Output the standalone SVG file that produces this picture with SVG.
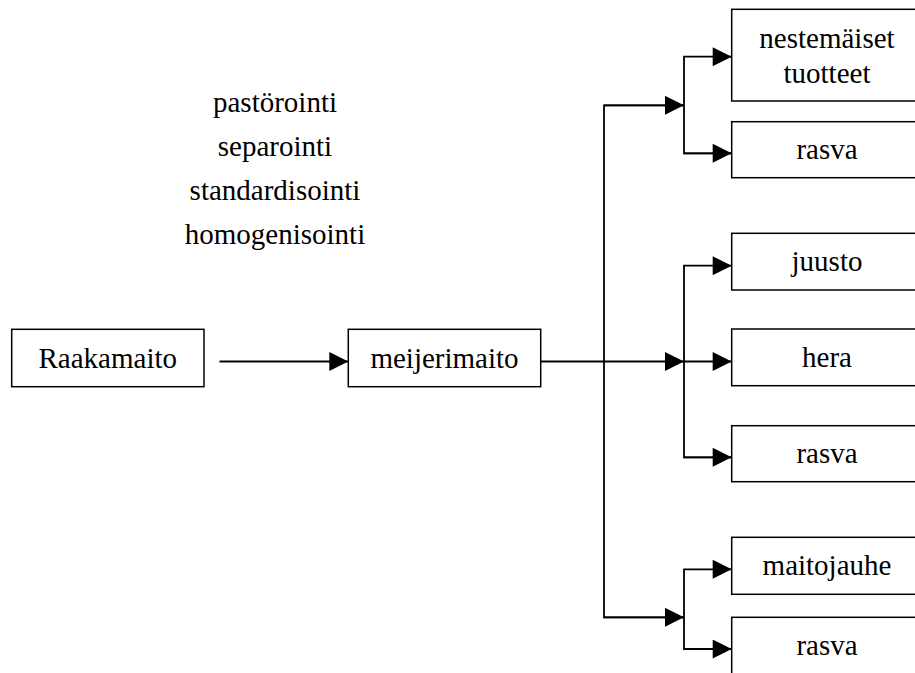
<svg xmlns="http://www.w3.org/2000/svg" width="915" height="673" viewBox="0 0 915 673">
<defs>
<marker id="arr" viewBox="0 0 20 20" refX="20" refY="10" markerWidth="20" markerHeight="19" markerUnits="userSpaceOnUse" orient="auto">
<path d="M0,0 L20,10 L0,20 Z" fill="#000"/>
</marker>
</defs>
<style>
.box{fill:#fff;stroke:#000;stroke-width:1.5}
.lbl{font-family:"Liberation Serif","Times New Roman","DejaVu Serif",serif;font-size:29px;fill:#000;text-anchor:middle}
.ln{fill:none;stroke:#000;stroke-width:1.8}
.ar{fill:none;stroke:#000;stroke-width:1.8;marker-end:url(#arr)}
</style>
<rect width="915" height="673" fill="#fff"/>
<g id="steps">
<text class="lbl" x="275" y="112">pastörointi</text>
<text class="lbl" x="275" y="156">separointi</text>
<text class="lbl" x="275" y="200">standardisointi</text>
<text class="lbl" x="275" y="244">homogenisointi</text>
</g>
<g id="connectors">
<line class="ar" x1="219.5" y1="361.5" x2="348.3" y2="361.5"/>
<line class="ar" x1="540.7" y1="361.5" x2="684" y2="361.5"/>
<polyline class="ln" points="684,105.3 604,105.3 604,617.3 684,617.3"/>
<line class="ar" x1="604" y1="105.3" x2="684" y2="105.3"/>
<line class="ar" x1="604" y1="617.3" x2="684" y2="617.3"/>
<polyline class="ar" points="731.7,153.3 684,153.3 684,56.7 731.7,56.7"/>
<line class="ar" x1="684" y1="153.3" x2="731.7" y2="153.3"/>
<polyline class="ar" points="731.7,457.3 684,457.3 684,265.7 731.7,265.7"/>
<line class="ar" x1="684" y1="457.3" x2="731.7" y2="457.3"/>
<line class="ar" x1="684" y1="361.5" x2="731.7" y2="361.5"/>
<polyline class="ar" points="731.7,649 684,649 684,569.3 731.7,569.3"/>
<line class="ar" x1="684" y1="649" x2="731.7" y2="649"/>
</g>
<g id="raakamaito">
<rect class="box" x="11.7" y="329.3" width="192.3" height="57.4"/>
<text class="lbl" x="107.8" y="367.7">Raakamaito</text>
</g>
<g id="meijerimaito">
<rect class="box" x="348.3" y="329.3" width="192.4" height="57.4"/>
<text class="lbl" x="444.5" y="367.7">meijerimaito</text>
</g>
<g id="nestemaiset">
<rect class="box" x="731.7" y="9.3" width="192" height="91.7"/>
<text class="lbl" x="827" y="48.3">nestemäiset</text>
<text class="lbl" x="827" y="82.7">tuotteet</text>
</g>
<g id="rasva1">
<rect class="box" x="731.7" y="121.7" width="192" height="56"/>
<text class="lbl" x="827" y="159.3">rasva</text>
</g>
<g id="juusto">
<rect class="box" x="731.7" y="233.3" width="192" height="56.7"/>
<text class="lbl" x="827" y="271.3">juusto</text>
</g>
<g id="hera">
<rect class="box" x="731.7" y="329" width="192" height="56.7"/>
<text class="lbl" x="827" y="367">hera</text>
</g>
<g id="rasva2">
<rect class="box" x="731.7" y="425.7" width="192" height="56"/>
<text class="lbl" x="827" y="463.3">rasva</text>
</g>
<g id="maitojauhe">
<rect class="box" x="731.7" y="537.3" width="192" height="57"/>
<text class="lbl" x="827" y="575.3">maitojauhe</text>
</g>
<g id="rasva3">
<rect class="box" x="731.7" y="617.3" width="192" height="57"/>
<text class="lbl" x="827" y="655">rasva</text>
</g>
</svg>
